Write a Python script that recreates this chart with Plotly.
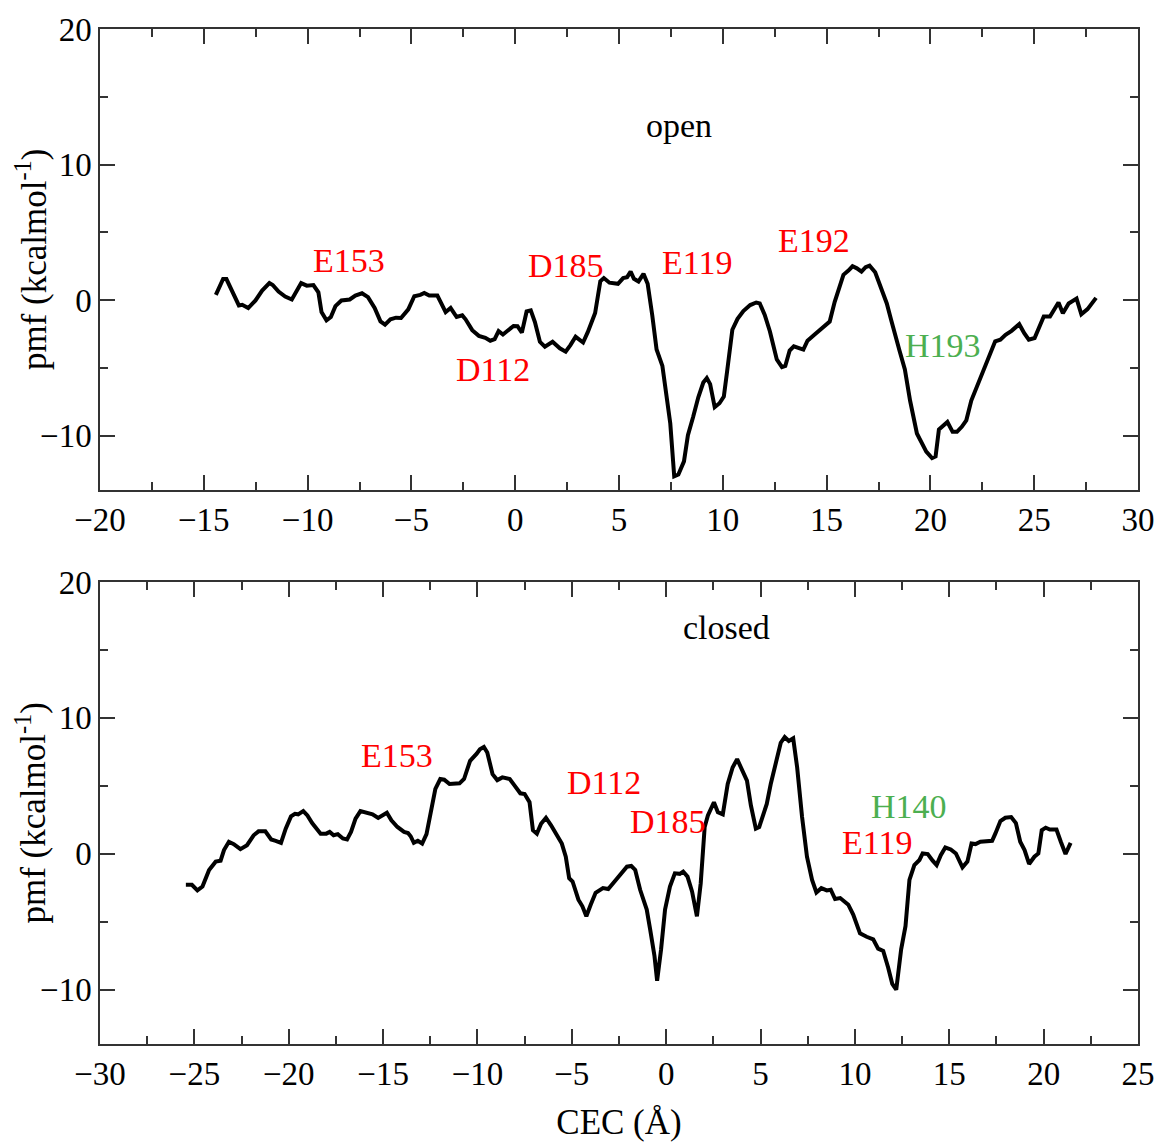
import plotly.graph_objects as go

# PMF profile along the CEC coordinate, open state
open_cec = [-14.42, -14.07, -13.91, -13.63, -13.31, -13.15, -12.86, -12.51, -12.19, -11.84,
            -11.68, -11.40, -11.08, -10.76, -10.52, -10.31, -10.04, -9.72, -9.48, -9.33,
            -9.09, -8.88, -8.66, -8.37, -7.97, -7.70, -7.38, -7.09, -6.77, -6.49,
            -6.27, -6.01, -5.74, -5.50, -5.15, -4.86, -4.57, -4.38, -4.14, -3.75,
            -3.59, -3.35, -3.11, -2.82, -2.55, -2.39, -2.07, -1.75, -1.44, -1.20,
            -0.99, -0.80, -0.59, -0.32, -0.08, 0.11, 0.32, 0.55, 0.75, 0.95,
            1.19, 1.43, 1.80, 2.15, 2.43, 2.66, 2.91, 3.27, 3.50, 3.85,
            4.10, 4.27, 4.54, 4.95, 5.20, 5.39, 5.56, 5.72, 5.94, 6.18,
            6.38, 6.60, 6.81, 7.09, 7.34, 7.47, 7.66, 7.86, 8.13, 8.32,
            8.57, 8.82, 9.06, 9.23, 9.39, 9.61, 9.84, 10.05, 10.21, 10.46,
            10.71, 10.99, 11.32, 11.61, 11.78, 12.02, 12.27, 12.60, 12.85, 13.01,
            13.22, 13.42, 13.88, 14.08, 14.41, 14.77, 15.15, 15.39, 15.64, 15.81,
            16.05, 16.25, 16.46, 16.68, 16.88, 17.07, 17.34, 17.57, 17.78, 17.90,
            18.11, 18.33, 18.52, 18.77, 19.02, 19.35, 19.59, 19.80, 20.08, 20.25,
            20.41, 20.63, 20.82, 21.07, 21.28, 21.51, 21.73, 21.97, 22.22, 22.47,
            22.71, 22.93, 23.12, 23.37, 23.62, 23.91, 24.28, 24.52, 24.74, 25.02,
            25.26, 25.46, 25.76, 25.92, 26.17, 26.38, 26.66, 27.04, 27.27, 27.57,
            27.98]
open_pmf = [0.39, 1.56, 1.56, 0.71, -0.39, -0.34, -0.58, -0.02, 0.71, 1.26,
            1.12, 0.63, 0.27, 0.05, 0.71, 1.26, 1.07, 1.12, 0.58, -0.88,
            -1.48, -1.24, -0.44, -0.02, 0.05, 0.34, 0.51, 0.22, -0.58, -1.56,
            -1.80, -1.41, -1.29, -1.31, -0.68, 0.29, 0.39, 0.53, 0.34, 0.34,
            -0.15, -0.88, -0.58, -1.24, -1.12, -1.41, -2.21, -2.63, -2.77, -2.99,
            -2.87, -2.28, -2.53, -2.21, -1.90, -1.92, -2.39, -0.83, -0.75, -1.61,
            -3.07, -3.43, -3.07, -3.55, -3.80, -3.31, -2.70, -3.12, -2.34, -0.95,
            1.40, 1.63, 1.29, 1.21, 1.63, 1.70, 2.11, 1.58, 1.38, 1.94,
            1.21, -1.09, -3.64, -4.85, -7.65, -9.10, -12.99, -12.86, -11.89, -9.95,
            -8.62, -7.16, -6.07, -5.75, -6.19, -7.89, -7.60, -7.11, -5.22, -2.18,
            -1.38, -0.80, -0.36, -0.17, -0.24, -1.09, -2.31, -4.37, -4.93, -4.85,
            -3.71, -3.40, -3.64, -2.99, -2.55, -2.06, -1.58, -0.12, 1.09, 1.87,
            2.18, 2.50, 2.35, 2.11, 2.43, 2.55, 2.06, 1.09, 0.12, -0.24,
            -1.46, -2.79, -3.76, -5.10, -7.40, -9.83, -10.56, -11.17, -11.65, -11.53,
            -9.54, -9.22, -8.98, -9.71, -9.71, -9.34, -8.86, -7.40, -6.43, -5.46,
            -4.61, -3.57, -3.03, -2.91, -2.55, -2.26, -1.77, -2.43, -2.91, -2.79,
            -1.82, -1.21, -1.21, -0.85, -0.17, -0.97, -0.24, 0.12, -1.04, -0.66,
            0.17]

# PMF profile along the CEC coordinate, closed state
closed_cec = [-25.45, -25.13, -24.84, -24.57, -24.22, -23.87, -23.61, -23.43, -23.17, -22.91,
              -22.56, -22.21, -21.86, -21.60, -21.24, -20.93, -20.69, -20.41, -20.16, -19.88,
              -19.67, -19.50, -19.23, -19.01, -18.76, -18.31, -18.01, -17.83, -17.62, -17.40,
              -17.13, -16.91, -16.70, -16.46, -16.20, -15.86, -15.56, -15.26, -15.03, -14.80,
              -14.56, -14.24, -13.89, -13.68, -13.54, -13.37, -13.16, -12.93, -12.70, -12.49,
              -12.23, -11.97, -11.76, -11.48, -11.23, -10.95, -10.71, -10.39, -10.04, -9.87,
              -9.66, -9.48, -9.20, -8.95, -8.68, -8.29, -8.03, -7.73, -7.50, -7.24,
              -7.06, -6.85, -6.63, -6.37, -6.10, -5.84, -5.53, -5.32, -5.14, -4.96,
              -4.65, -4.44, -4.23, -4.00, -3.74, -3.35, -3.07, -2.69, -2.34, -2.08,
              -1.85, -1.64, -1.38, -1.03, -0.85, -0.62, -0.48, -0.27, -0.06, 0.20,
              0.46, 0.72, 0.90, 1.13, 1.37, 1.63, 1.83, 2.04, 2.21, 2.53,
              2.74, 3.00, 3.26, 3.52, 3.76, 4.00, 4.28, 4.49, 4.75, 4.93,
              5.33, 5.54, 5.80, 6.07, 6.28, 6.50, 6.73, 6.94, 7.20, 7.46,
              7.73, 7.96, 8.22, 8.51, 8.72, 8.95, 9.22, 9.65, 9.91, 10.27,
              10.62, 10.97, 11.23, 11.50, 11.76, 11.98, 12.19, 12.45, 12.68, 12.89,
              13.15, 13.42, 13.59, 13.86, 14.12, 14.33, 14.55, 14.79, 15.08, 15.35,
              15.70, 15.96, 16.18, 16.39, 16.65, 17.27, 17.44, 17.71, 17.97, 18.28,
              18.53, 18.76, 18.99, 19.23, 19.51, 19.72, 19.90, 20.11, 20.33, 20.68,
              20.91, 21.16, 21.43]
closed_pmf = [-2.29, -2.29, -2.70, -2.41, -1.19, -0.58, -0.51, 0.27, 0.88, 0.71,
              0.34, 0.63, 1.36, 1.65, 1.65, 1.05, 0.95, 0.80, 1.85, 2.75,
              2.94, 2.90, 3.14, 2.82, 2.26, 1.48, 1.48, 1.61, 1.36, 1.44,
              1.12, 1.05, 1.61, 2.58, 3.14, 2.99, 2.90, 2.63, 2.82, 3.02,
              2.46, 1.97, 1.61, 1.53, 1.29, 0.80, 0.95, 0.75, 1.44, 2.94,
              4.77, 5.50, 5.45, 5.13, 5.18, 5.18, 5.50, 6.84, 7.37, 7.69,
              7.86, 7.45, 5.86, 5.42, 5.62, 5.50, 5.01, 4.45, 4.40, 3.79,
              1.73, 1.48, 2.21, 2.65, 2.09, 1.48, 0.75, -0.22, -1.80, -2.04,
              -3.38, -3.87, -4.60, -3.75, -2.87, -2.53, -2.60, -1.97, -1.44, -0.95,
              -0.90, -1.19, -2.65, -4.11, -5.57, -7.52, -9.34, -7.03, -4.11, -2.41,
              -1.44, -1.48, -1.31, -1.68, -2.77, -4.60, -2.17, 1.97, 2.82, 3.79,
              3.06, 2.90, 5.13, 6.35, 6.96, 6.23, 5.38, 3.55, 1.85, 1.97,
              3.67, 5.13, 6.59, 8.17, 8.59, 8.30, 8.49, 6.35, 2.70, -0.22,
              -1.92, -2.85, -2.53, -2.70, -2.65, -3.33, -3.26, -3.75, -4.48, -5.86,
              -6.11, -6.30, -6.98, -7.15, -8.37, -9.58, -10.00, -7.03, -5.33, -1.92,
              -0.83, -0.46, 0.02, -0.02, -0.51, -0.83, -0.10, 0.46, 0.32, 0.02,
              -1.00, -0.58, 0.75, 0.71, 0.88, 0.95, 1.48, 2.41, 2.65, 2.70,
              2.26, 0.88, 0.27, -0.75, -0.22, 0.02, 1.73, 1.92, 1.78, 1.78,
              0.88, -0.02, 0.80]

# Residue labels: text, position, colour
open_labels = ["E153", "D112", "D185", "E119", "E192", "H193"]
open_label_x = [-8.0, -1.07, 2.46, 8.78, 14.41, 20.63]
open_label_y = [2.9, -5.1, 2.55, 2.77, 4.38, -3.36]
open_label_colors = ["red", "red", "red", "red", "red", "#4caf50"]

closed_labels = ["E153", "D112", "D185", "H140", "E119"]
closed_label_x = [-14.24, -3.27, 0.09, 12.85, 11.18]
closed_label_y = [7.23, 5.26, 2.41, 3.50, 0.80]
closed_label_colors = ["red", "red", "red", "#4caf50", "red"]

FONT = "Liberation Serif"
TICK_FS = 33
TEXT_FS = 34
TITLE_FS = 35
LINE = dict(color="black", width=4)
YTITLE = "pmf (kcalmol<sup>-1</sup>)"

MARGIN_L, MARGIN_R = 100, 20

fig = go.Figure()
fig.add_trace(go.Scatter(x=open_cec, y=open_pmf, mode="lines", line=LINE,
                         xaxis="x", yaxis="y", showlegend=False))
fig.add_trace(go.Scatter(x=closed_cec, y=closed_pmf, mode="lines", line=LINE,
                         xaxis="x2", yaxis="y2", showlegend=False))

axis_common = dict(
    showgrid=False, zeroline=False, showline=True, linecolor="#333", linewidth=1.5,
    mirror="allticks", ticks="inside", ticklen=15, tickwidth=1.5, tickcolor="#333",
    tickfont=dict(family=FONT, size=TICK_FS, color="black"),
    ticklabeloverflow="allow",
    minor=dict(ticks="inside", ticklen=8, tickwidth=1.5, tickcolor="#333"),
)

top_dom = [0.5458, 1.0]
bot_dom = [0.0, 0.4552]

fig.update_layout(
    width=1167, height=1147,
    margin=dict(l=MARGIN_L, r=MARGIN_R, t=24, b=97),
    paper_bgcolor="white", plot_bgcolor="white",
    font=dict(family=FONT, size=TEXT_FS, color="black"),
    xaxis=dict(axis_common, domain=[0, 1], anchor="y", range=[-20, 30],
               tick0=0, dtick=5, minor_dtick=2.5),
    yaxis=dict(axis_common, domain=top_dom, anchor="x", range=[-14, 20],
               tick0=0, dtick=10, minor_dtick=5),
    xaxis2=dict(axis_common, domain=[0, 1], anchor="y2", range=[-30, 25],
                tick0=0, dtick=5, minor_dtick=2.5,
                title=dict(text="CEC (Å)", font=dict(family=FONT, size=TITLE_FS), standoff=18)),
    yaxis2=dict(axis_common, domain=bot_dom, anchor="x2", range=[-14, 20],
                tick0=0, dtick=10, minor_dtick=5),
)

plot_w = 1167 - MARGIN_L - MARGIN_R
ytitle_x = (31 - MARGIN_L) / plot_w

annotations = [
    dict(x=ytitle_x, y=sum(top_dom) / 2, xref="paper", yref="paper", text=YTITLE,
         textangle=-90, showarrow=False, xanchor="center", yanchor="middle",
         font=dict(family=FONT, size=TITLE_FS, color="black")),
    dict(x=ytitle_x, y=sum(bot_dom) / 2, xref="paper", yref="paper", text=YTITLE,
         textangle=-90, showarrow=False, xanchor="center", yanchor="middle",
         font=dict(family=FONT, size=TITLE_FS, color="black")),
    dict(x=7.87, y=12.9, xref="x", yref="y", text="open", showarrow=False,
         font=dict(family=FONT, size=TEXT_FS, color="black")),
    dict(x=3.19, y=16.64, xref="x2", yref="y2", text="closed", showarrow=False,
         font=dict(family=FONT, size=TEXT_FS, color="black")),
]
for t, x, y, c in zip(open_labels, open_label_x, open_label_y, open_label_colors):
    annotations.append(dict(x=x, y=y, xref="x", yref="y", text=t, showarrow=False,
                            font=dict(family=FONT, size=TEXT_FS, color=c)))
for t, x, y, c in zip(closed_labels, closed_label_x, closed_label_y, closed_label_colors):
    annotations.append(dict(x=x, y=y, xref="x2", yref="y2", text=t, showarrow=False,
                            font=dict(family=FONT, size=TEXT_FS, color=c)))
fig.update_layout(annotations=annotations)

fig.write_html("out.html")
